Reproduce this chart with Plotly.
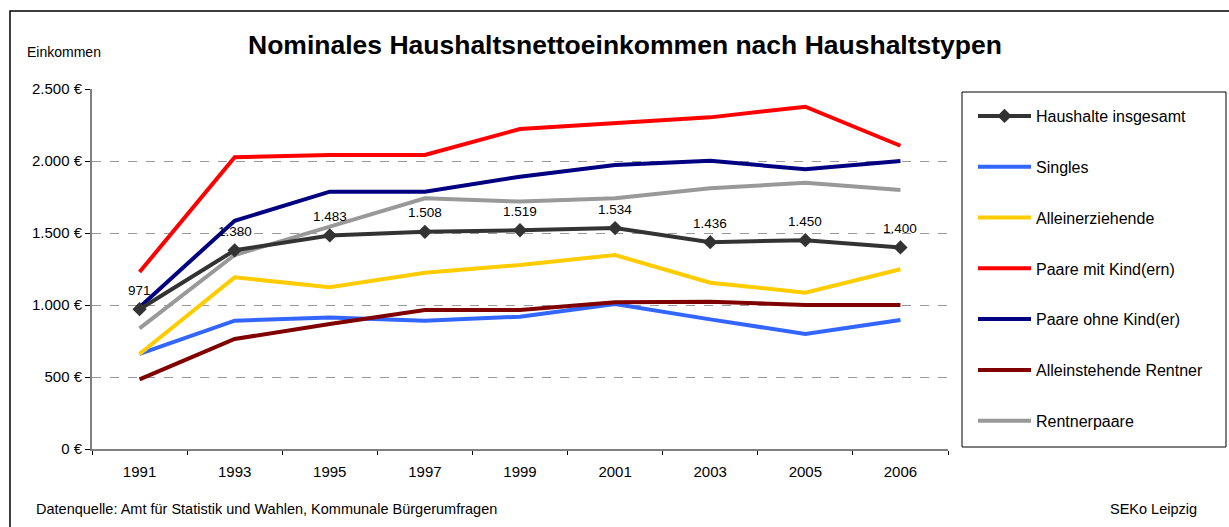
import plotly.graph_objects as go

years = ["1991", "1993", "1995", "1997", "1999", "2001", "2003", "2005", "2006"]

series_names = [
    "Haushalte insgesamt",
    "Singles",
    "Alleinerziehende",
    "Paare mit Kind(ern)",
    "Paare ohne Kind(er)",
    "Alleinstehende Rentner",
    "Rentnerpaare",
]

haushalte_insgesamt = [971, 1380, 1483, 1508, 1519, 1534, 1436, 1450, 1400]
singles = [660, 891, 914, 891, 919, 1007, 900, 799, 896]
alleinerziehende = [660, 1192, 1123, 1224, 1278, 1347, 1155, 1086, 1248]
paare_mit_kind = [1229, 2026, 2042, 2042, 2222, 2262, 2303, 2377, 2106]
paare_ohne_kind = [985, 1585, 1787, 1787, 1891, 1972, 2002, 1942, 2000]
alleinstehende_rentner = [484, 764, 868, 965, 965, 1019, 1023, 1000, 1000]
rentnerpaare = [838, 1347, 1544, 1741, 1718, 1741, 1810, 1849, 1799]

colors = ["#333333", "#3366FF", "#FFCC00", "#FF0000", "#000080", "#800000", "#999999"]

y_tick_vals = [0, 500, 1000, 1500, 2000, 2500]
y_tick_text = ["0 €", "500 €", "1.000 €", "1.500 €", "2.000 €", "2.500 €"]

FONT = "Liberation Sans, Arial"


def de_num(v):
    return f"{v:,}".replace(",", ".")


all_series = [haushalte_insgesamt, singles, alleinerziehende, paare_mit_kind,
              paare_ohne_kind, alleinstehende_rentner, rentnerpaare]

traces = []
for i in range(len(series_names)):
    vals = all_series[i]
    if i == 0:
        tr = go.Scatter(
            x=years, y=vals, name=series_names[i],
            mode="lines+markers",
            line=dict(color=colors[i], width=4),
            marker=dict(symbol="diamond", size=11, color=colors[i]),
            legendgroup=f"g{i}", legendrank=i + 1,
            cliponaxis=False,
        )
    else:
        tr = go.Scatter(
            x=years, y=vals, name=series_names[i],
            mode="lines",
            line=dict(color=colors[i], width=4),
            legendgroup=f"g{i}", legendrank=i + 1,
        )
    traces.append(tr)

# draw the total line last so it sits on top
fig = go.Figure(data=traces[1:] + traces[:1])

L, R, T, B = 92, 948, 89, 449
PW, PH = R - L, B - T


def px(x):
    return (x - L) / PW


def py(y):
    return (B - y) / PH


fig.update_layout(
    width=1229, height=527,
    margin=dict(l=L, r=1229 - R, t=T, b=527 - B),
    paper_bgcolor="white", plot_bgcolor="white",
    font=dict(family=FONT, size=15, color="#000000"),
    title=dict(
        text="<b>Nominales Haushaltsnettoeinkommen nach Haushaltstypen</b>",
        x=625 / 1229, xanchor="center", y=1 - 45 / 527, yanchor="middle",
        font=dict(family=FONT, size=26.5, color="#000000"),
    ),
    showlegend=True,
    legend=dict(
        x=px(973), xanchor="left",
        y=py(99), yanchor="top",
        borderwidth=0,
        bgcolor="rgba(0,0,0,0)",
        font=dict(family=FONT, size=16, color="#000000"),
        tracegroupgap=27,
        itemwidth=53,
        traceorder="grouped",
    ),
    xaxis=dict(
        type="category", range=[-0.5, 8.5],
        categoryorder="array", categoryarray=years,
        showline=True, linecolor="#808080", linewidth=2,
        ticks="outside", ticklen=4, tickcolor="#000000",
        tickson="boundaries",
        ticklabelstandoff=8,
        showgrid=False,
        tickfont=dict(size=15),
    ),
    yaxis=dict(
        range=[0, 2500],
        tickvals=y_tick_vals, ticktext=y_tick_text,
        showline=True, linecolor="#808080", linewidth=2,
        ticks="outside", ticklen=5, tickcolor="#000000",
        showgrid=True, gridcolor="#999999", griddash="dash", gridwidth=1,
        zeroline=False,
        tickfont=dict(size=15),
    ),
)

# data labels for the total series (x given as category index)
for idx, v in enumerate(haushalte_insgesamt):
    fig.add_annotation(x=idx, y=v, xref="x", yref="y", text=de_num(v),
                       showarrow=False, yshift=19, yanchor="middle",
                       font=dict(family=FONT, size=13.5, color="#000000"))

# outer frame
fig.add_shape(type="rect", xref="paper", yref="paper",
              x0=px(10), x1=px(1240), y0=py(540), y1=py(11),
              line=dict(color="#000000", width=1.5), fillcolor="rgba(0,0,0,0)",
              layer="below")
# legend frame
fig.add_shape(type="rect", xref="paper", yref="paper",
              x0=px(962), x1=px(1226), y0=py(447), y1=py(92),
              line=dict(color="#000000", width=1), fillcolor="rgba(0,0,0,0)",
              layer="below")

fig.add_annotation(text="Einkommen", xref="paper", yref="paper",
                   x=px(25), y=py(52), xanchor="left", yanchor="middle",
                   showarrow=False, font=dict(size=14))
fig.add_annotation(text="Datenquelle: Amt für Statistik und Wahlen, Kommunale Bürgerumfragen",
                   xref="paper", yref="paper",
                   x=px(34), y=py(509), xanchor="left", yanchor="middle",
                   showarrow=False, font=dict(size=14.5))
fig.add_annotation(text="SEKo Leipzig", xref="paper", yref="paper",
                   x=px(1199), y=py(509), xanchor="right", yanchor="middle",
                   showarrow=False, font=dict(size=14.5))

fig.write_html("out.html", post_script="document.body.style.margin='0';",
               config={"displayModeBar": False})
